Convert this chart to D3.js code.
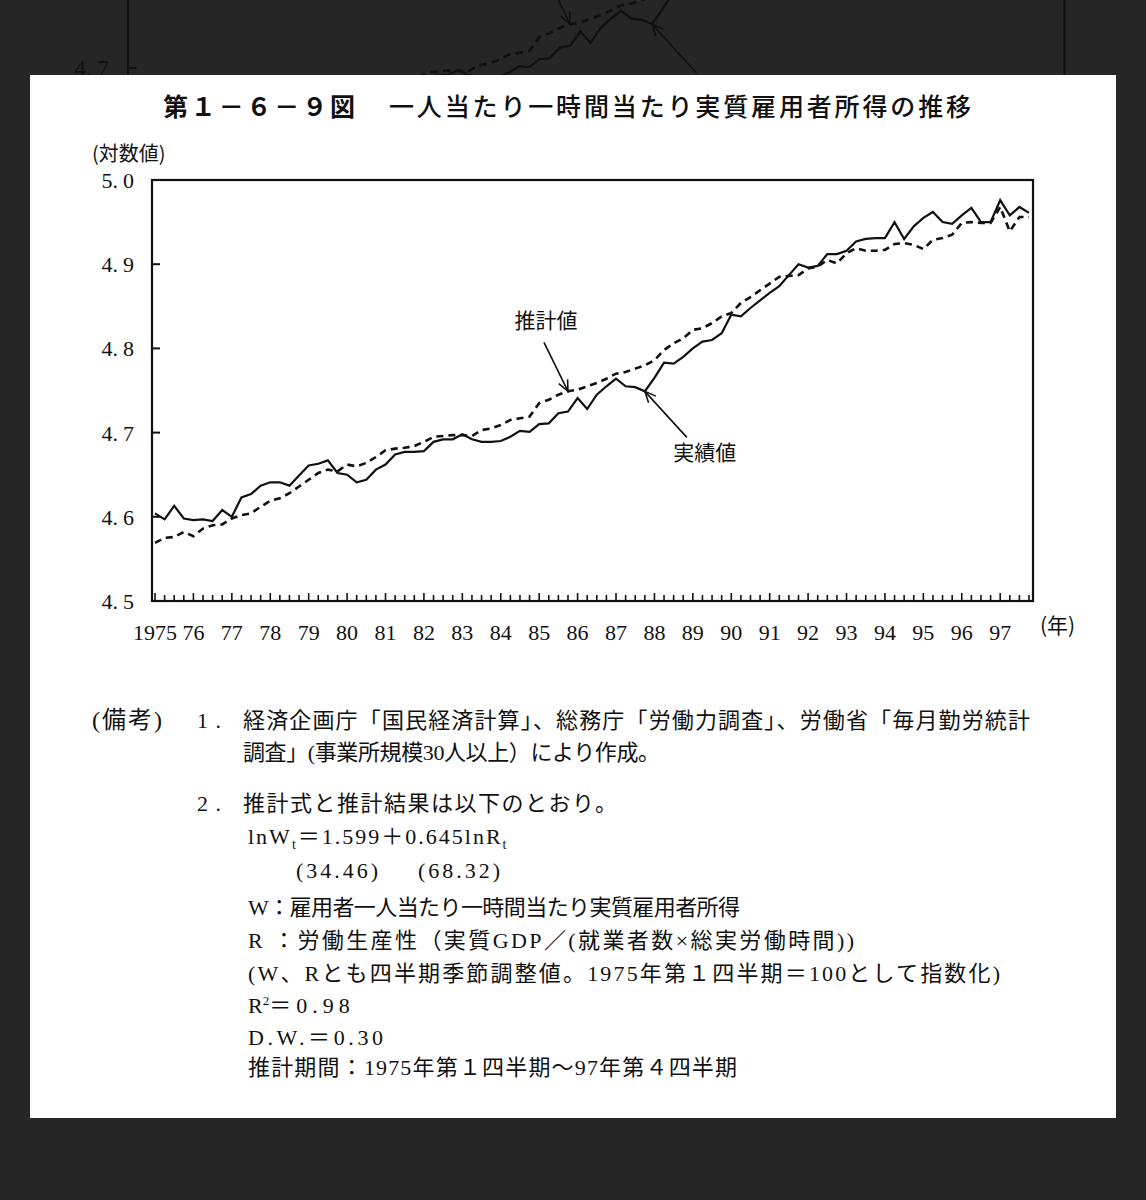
<!DOCTYPE html>
<html><head><meta charset="utf-8">
<script src="https://cdn.jsdelivr.net/npm/d3@7"></script>
<style>html,body{margin:0;padding:0;background:#262626;}svg{display:block;}</style>
</head><body>
<svg id="chart" width="1146" height="1200"></svg>
<script>
// ---- data (quarterly, 1975Q1 .. 1997Q4) ----
const yearLabels = ["1975","76","77","78","79","80","81","82","83","84","85","86","87","88","89","90","91","92","93","94","95","96","97"];
const yTicks = [4.5, 4.6, 4.7, 4.8, 4.9, 5.0];
const actual = [
4.604,4.597,4.613,4.598,4.596,4.597,4.595,4.608,
4.600,4.623,4.627,4.637,4.641,4.641,4.637,4.649,
4.661,4.663,4.667,4.652,4.650,4.641,4.644,4.656,
4.662,4.674,4.677,4.677,4.678,4.689,4.692,4.692,
4.698,4.692,4.689,4.689,4.690,4.695,4.702,4.701,
4.710,4.711,4.723,4.725,4.741,4.728,4.745,4.755,
4.764,4.755,4.754,4.749,4.765,4.783,4.782,4.790,
4.800,4.808,4.810,4.818,4.840,4.838,4.848,4.857,
4.866,4.874,4.887,4.900,4.896,4.898,4.912,4.912,
4.916,4.927,4.930,4.931,4.931,4.950,4.930,4.945,
4.955,4.962,4.950,4.948,4.958,4.967,4.950,4.950,
4.976,4.958,4.968,4.961];
const estimated = [
4.569,4.575,4.576,4.582,4.577,4.586,4.590,4.591,
4.598,4.602,4.604,4.612,4.619,4.622,4.628,4.636,
4.644,4.652,4.656,4.654,4.662,4.660,4.664,4.671,
4.679,4.681,4.682,4.684,4.689,4.695,4.696,4.697,
4.697,4.696,4.703,4.705,4.709,4.715,4.717,4.719,
4.735,4.739,4.745,4.749,4.751,4.755,4.759,4.764,
4.770,4.772,4.776,4.780,4.786,4.798,4.806,4.812,
4.822,4.824,4.830,4.838,4.842,4.854,4.861,4.869,
4.877,4.885,4.886,4.887,4.895,4.897,4.905,4.901,
4.913,4.919,4.916,4.916,4.917,4.924,4.925,4.923,
4.918,4.929,4.931,4.935,4.949,4.950,4.949,4.949,
4.968,4.939,4.956,4.956];
const title1 = "第１－６－９図";
const title2 = "一人当たり一時間当たり実質雇用者所得の推移";
const yUnit = "(対数値)";
const xUnit = "(年)";
const labelEst = "推計値";
const labelAct = "実績値";

const svg = d3.select("#chart");
const PL = 152, PR = 1033, PT = 180, PB = 601;
const x = d3.scaleLinear().domain([0, actual.length - 1]).range([155, 1029]);
const y = d3.scaleLinear().domain([4.5, 5.0]).range([PB, PT]);
const serif = "'Liberation Serif','Noto Sans CJK JP',serif";
const gothic = "'Noto Sans CJK JP','Noto Sans',sans-serif";
const ink = "#111";

svg.append("defs").append("clipPath").attr("id","topclip")
  .append("rect").attr("x",0).attr("y",0).attr("width",1146).attr("height",75);

function arrow(g, x1, y1, x2, y2, sw){
  g.append("line").attr("x1",x1).attr("y1",y1).attr("x2",x2).attr("y2",y2)
    .attr("stroke",ink).attr("stroke-width",sw);
  const a = Math.atan2(y2-y1, x2-x1), L = 12, s = 0.42;
  const p = [[x2 - L*Math.cos(a - s), y2 - L*Math.sin(a - s)],[x2,y2],[x2 - L*Math.cos(a + s), y2 - L*Math.sin(a + s)]];
  g.append("path").attr("d", d3.line()(p)).attr("fill","none").attr("stroke",ink).attr("stroke-width",sw);
}

function yLabel(g, v){
  const s = v.toFixed(1).split(".");
  const t = g.append("text").attr("x",134).attr("y",y(v)+8).attr("text-anchor","end")
    .attr("font-family",serif).attr("font-size",22).attr("fill",ink);
  t.append("tspan").text(s[0] + ".");
  t.append("tspan").attr("dx",5).text(s[1]);
}

function drawChart(g, isBackground){
  // frame
  g.append("rect").attr("x",PL).attr("y",PT).attr("width",PR-PL).attr("height",PB-PT)
    .attr("fill","none").attr("stroke",ink).attr("stroke-width",2.2);
  // y ticks + labels
  yTicks.forEach(v => {
    g.append("line").attr("x1",PL).attr("x2",PL+8).attr("y1",y(v)).attr("y2",y(v))
      .attr("stroke",ink).attr("stroke-width",2);
    if (!isBackground || v === 4.7) yLabel(g, v);
  });
  // x ticks (quarters)
  d3.range(actual.length).forEach(i => {
    const len = (i % 4 === 0) ? 8 : 6;
    g.append("line").attr("x1",x(i)).attr("x2",x(i)).attr("y1",PB).attr("y2",PB-len)
      .attr("stroke",ink).attr("stroke-width",1.6);
  });
  // lines
  const line = d3.line().x((d,i)=>x(i)).y(d=>y(d));
  g.append("path").attr("d",line(estimated)).attr("fill","none").attr("stroke",ink)
    .attr("stroke-width",2.6).attr("stroke-dasharray","7,5");
  g.append("path").attr("d",line(actual)).attr("fill","none").attr("stroke",ink)
    .attr("stroke-width",2.2).attr("stroke-linejoin","miter");
  // annotations
  const tE = [x(43), y(estimated[43])];
  const tA = [x(51), y(actual[51])];
  arrow(g, tE[0]-24, tE[1]-49, tE[0], tE[1], 1.6);
  arrow(g, tA[0]+42, tA[1]+46, tA[0], tA[1], 1.6);
  if (isBackground) return;
  // x labels
  yearLabels.forEach((lab, k) => {
    g.append("text").attr("x",x(k*4)).attr("y",640).attr("text-anchor","middle")
      .attr("font-family",serif).attr("font-size",22).attr("fill",ink).text(lab);
  });
  g.append("text").attr("x",1040).attr("y",633).attr("font-family",gothic).attr("font-size",21).attr("fill",ink).text(xUnit);
  g.append("text").attr("x",92).attr("y",161).attr("font-family",gothic).attr("font-size",20).attr("fill",ink).text(yUnit);
  g.append("text").attr("x",tE[0]-22).attr("y",tE[1]-63).attr("text-anchor","middle")
    .attr("font-family",gothic).attr("font-size",21).attr("fill",ink).text(labelEst);
  g.append("text").attr("x",tA[0]+60).attr("y",tA[1]+69).attr("text-anchor","middle")
    .attr("font-family",gothic).attr("font-size",21).attr("fill",ink).text(labelAct);
}

// background: the same page, larger, showing through above the sheet
const bg = svg.append("g").attr("clip-path","url(#topclip)");
const sc = 1.063;
const bgInner = bg.append("g").attr("transform",`translate(${128 - PL*sc},${68 - y(4.7)*sc}) scale(${sc})`);
drawChart(bgInner, true);

// white sheet
svg.append("rect").attr("x",30).attr("y",75).attr("width",1086).attr("height",1043).attr("fill","#ffffff");

const main = svg.append("g");
drawChart(main, false);

// title
main.append("text").attr("x",163).attr("y",116).attr("font-family",gothic).attr("font-size",25)
  .attr("font-weight",700).attr("fill",ink).attr("textLength",192).attr("lengthAdjust","spacing").text(title1);
main.append("text").attr("x",389).attr("y",116).attr("font-family",gothic).attr("font-size",25)
  .attr("font-weight",500).attr("fill",ink).attr("textLength",582).attr("lengthAdjust","spacing").text(title2);

// notes
const notes = main.append("g").attr("font-family",serif).attr("font-size",22).attr("fill",ink);
function note(xp, yc, txt, len){
  const t = notes.append("text").attr("x",xp).attr("y",yc+8).text(txt);
  if (len) t.attr("textLength",len).attr("lengthAdjust","spacing");
  return t;
}
note(92, 720, "(備考)", 70).attr("font-size",24);
note(197, 720, "1.", 24);
note(243, 720, "経済企画庁「国民経済計算」、総務庁「労働力調査」、労働省「毎月勤労統計", 787);
note(243, 752, "調査」(事業所規模30人以上）により作成。", 417);
note(197, 803, "2.", 24);
note(243, 803, "推計式と推計結果は以下のとおり。", 374);
const eq = notes.append("text").attr("x",248).attr("y",844).attr("letter-spacing",2);
eq.append("tspan").text("lnW");
eq.append("tspan").attr("dy",5).attr("font-size",14).text("t");
eq.append("tspan").attr("dy",-5).text("＝1.599＋0.645lnR");
eq.append("tspan").attr("dy",5).attr("font-size",14).text("t");
note(296, 870, "(34.46)", 82);
note(418, 870, "(68.32)", 82);
note(248, 907, "W：雇用者一人当たり一時間当たり実質雇用者所得", 492);
note(248, 940, "R ：労働生産性（実質GDP／(就業者数×総実労働時間))", 606);
note(248, 973, "(W、Rとも四半期季節調整値。1975年第１四半期＝100として指数化)", 752);
const r2 = notes.append("text").attr("x",248).attr("y",1013);
r2.append("tspan").text("R");
r2.append("tspan").attr("dy",-8).attr("font-size",13).text("2");
r2.append("tspan").attr("dy",8).attr("letter-spacing",5).text("＝0.98");
note(248, 1037, "D.W.＝0.30", 135);
note(248, 1067, "推計期間：1975年第１四半期～97年第４四半期", 489);
</script>
</body></html>
